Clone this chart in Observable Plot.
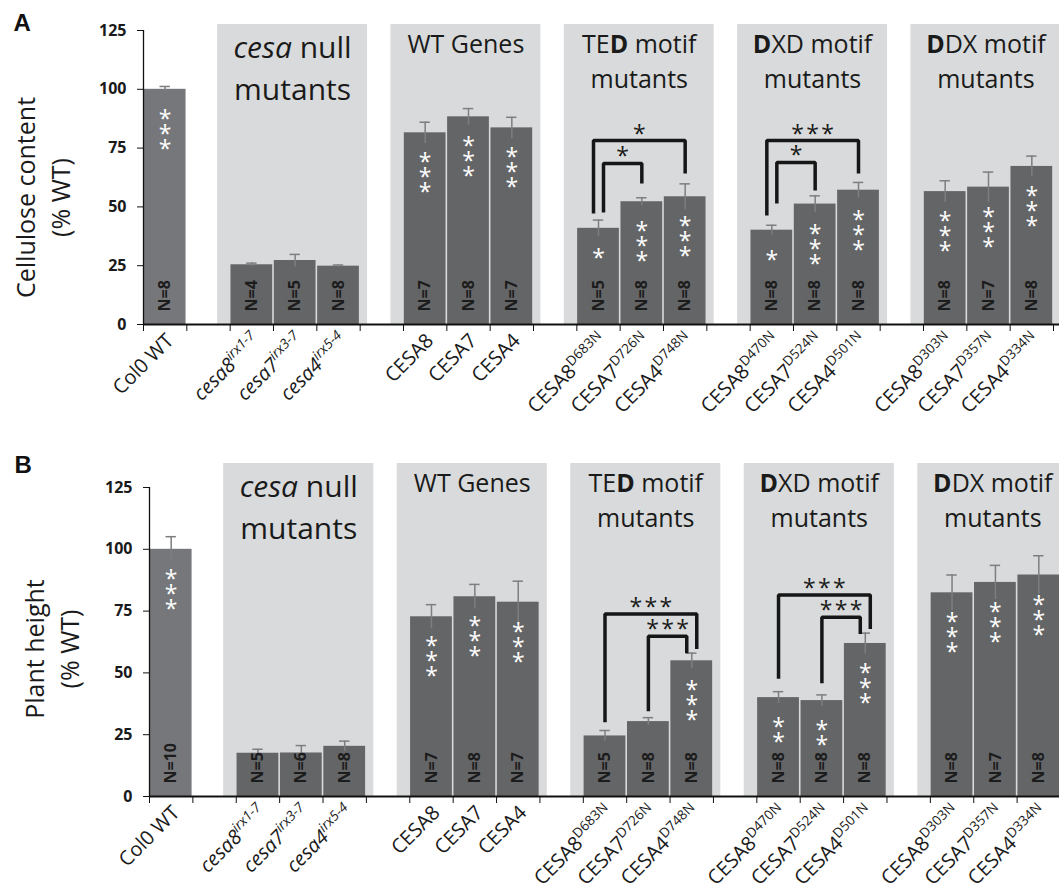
<!DOCTYPE html>
<html><head><meta charset="utf-8">
<script src="https://cdn.jsdelivr.net/npm/d3@7"></script>
<script src="https://cdn.jsdelivr.net/npm/@observablehq/plot@0.6"></script>
<style>
body{margin:0;background:#fff;}
#wrap{position:relative;width:1059px;height:887px;overflow:hidden;background:#fff;}
#wrap > svg{position:absolute;left:0;}
</style></head><body><div id="wrap"></div>
<script>
// ---- data ----
const labels = ["Col0 WT", "_cesa8^irx1-7_", "_cesa7^irx3-7_", "_cesa4^irx5-4_",
  "CESA8", "CESA7", "CESA4",
  "CESA8^D683N", "CESA7^D726N", "CESA4^D748N",
  "CESA8^D470N", "CESA7^D524N", "CESA4^D501N",
  "CESA8^D303N", "CESA7^D357N", "CESA4^D334N"];
const groupOf = ["", "null", "null", "null", "wt", "wt", "wt", "ted", "ted", "ted", "dxd", "dxd", "dxd", "ddx", "ddx", "ddx"];
const groupIds = ["null", "wt", "ted", "dxd", "ddx"];
const groupLine1 = ["_cesa_ null", "WT Genes", "TE[D] motif", "[D]XD motif", "[D]DX motif"];
const groupLine2 = ["mutants", "", "mutants", "mutants", "mutants"];
const yTicks = [0, 25, 50, 75, 100, 125];

const celluloseMean = [100, 25.4, 27.2, 24.8, 81.5, 88.3, 83.6, 40.9, 52.2, 54.3, 40.1, 51.2, 57.1, 56.5, 58.4, 67.2];
const celluloseErr  = [1.2, 0.7, 2.6, 0.5, 4.5, 3.5, 4.5, 3.5, 1.7, 5.5, 2.1, 3.5, 3.3, 4.6, 6.4, 4.4];
const celluloseN    = [8, 4, 5, 8, 7, 8, 7, 5, 8, 8, 8, 8, 8, 8, 7, 8];
const celluloseSig  = ["***", "", "", "", "***", "***", "***", "*", "***", "***", "*", "***", "***", "***", "***", "***"];
const celluloseBrackets = [
  {from: 7, to: 9, top: 78.2, fromEnd: 47.2, toEnd: 64.2, label: "*"},
  {from: 7, to: 8, top: 68.5, fromEnd: 47.6, toEnd: 60.0, label: "*"},
  {from: 10, to: 12, top: 78.2, fromEnd: 46.3, toEnd: 64.2, label: "***"},
  {from: 10, to: 11, top: 68.9, fromEnd: 51.4, toEnd: 57.0, label: "*"}
];

const heightMean = [100, 17.5, 17.6, 20.3, 72.7, 80.8, 78.6, 24.5, 30.3, 54.9, 40.0, 38.8, 61.9, 82.4, 86.6, 89.6];
const heightErr  = [5.1, 1.6, 3.0, 2.1, 4.9, 5.0, 8.5, 2.2, 1.6, 3.1, 2.4, 2.3, 4.2, 7.2, 6.9, 7.8];
const heightN    = [10, 5, 6, 8, 7, 8, 7, 5, 8, 8, 8, 8, 8, 8, 7, 8];
const heightSig  = ["***", "", "", "", "***", "***", "***", "", "", "***", "**", "**", "***", "***", "***", "***"];
const heightBrackets = [
  {from: 7, to: 9, top: 73.8, fromEnd: 30.0, toEnd: 59.7, label: "***"},
  {from: 8, to: 9, top: 64.8, fromEnd: 34.5, toEnd: 57.9, label: "***"},
  {from: 10, to: 12, top: 81.5, fromEnd: 47.6, toEnd: 67.8, label: "***"},
  {from: 11, to: 12, top: 72.5, fromEnd: 45.8, toEnd: 65.7, label: "***"}
];

// ---- layout helpers ----
const slots = [];
{ let s = 0; labels.forEach((l, i) => { if (i > 0) s += groupOf[i] !== groupOf[i - 1] ? 2 : 1; slots.push(s); }); }
const nSlots = slots[slots.length - 1] + 1;
const groups = groupIds.map((id, g) => {
  const ss = slots.filter((s, i) => groupOf[i] === id);
  const x1 = d3.min(ss) - 0.29, x2 = d3.max(ss) + 1 + 0.17;
  return {id, x1, x2, cx: (x1 + x2) / 2, line1: groupLine1[g], line2: groupLine2[g]};
});

function richify(svg) {
  const NS = "http://www.w3.org/2000/svg";
  svg.querySelectorAll("text, tspan").forEach(el => {
    if (el.childNodes.length !== 1 || el.firstChild.nodeType !== 3) return;
    const s = el.textContent;
    if (!/[\^_\[\]]/.test(s)) return;
    let italic = false, bold = false, sup = false, buf = "";
    const runs = [];
    const flush = () => { if (buf) runs.push({t: buf, italic, bold, sup}); buf = ""; };
    for (const ch of s) {
      if (ch === "_") { flush(); italic = !italic; }
      else if (ch === "[") { flush(); bold = true; }
      else if (ch === "]") { flush(); bold = false; }
      else if (ch === "^") { flush(); sup = true; }
      else buf += ch;
    }
    flush();
    el.textContent = "";
    let raised = false;
    for (const r of runs) {
      const t = document.createElementNS(NS, "tspan");
      t.textContent = r.t;
      if (r.italic) t.setAttribute("font-style", "italic");
      if (r.bold) t.setAttribute("font-weight", "bold");
      if (r.sup) {
        t.setAttribute("font-size", "0.68em");
        if (!raised) { t.setAttribute("dy", "-0.6em"); raised = true; }
      }
      el.appendChild(t);
    }
  });
}

function panel(cfg) {
  const rows = labels.map((label, i) => ({
    i, label, slot: slots[i], mean: cfg.mean[i], err: cfg.err[i], n: "N=" + cfg.n[i],
    sig: cfg.sig[i].split("").join("\n")
  }));
  const unitPx = (cfg.xRange[1] - cfg.xRange[0]) / nSlots;
  const off = 5 / unitPx;
  const cx = i => slots[i] + 0.5;
  const pts = [], blabels = [];
  cfg.brackets.forEach((b, k) => {
    let oL = 0, oR = 0;
    cfg.brackets.forEach(o => {
      if (o === b) return;
      const wide = (b.to - b.from) > (o.to - o.from);
      if (o.from === b.from) oL = wide ? -off : off;
      if (o.to === b.to) oR = wide ? off : -off;
    });
    const xa = cx(b.from) + oL, xb = cx(b.to) + oR;
    pts.push({k, x: xa, y: b.fromEnd}, {k, x: xa, y: b.top}, {k, x: xb, y: b.top}, {k, x: xb, y: b.toEnd});
    blabels.push({x: (xa + xb) / 2, y: b.top, t: b.label.split("").join("\u200a")});
  });
  const ink = "#1a1a1a";
  const svg = Plot.plot({
    width: 1059, height: cfg.height,
    marginTop: cfg.marginTop, marginBottom: cfg.marginBottom,
    marginLeft: cfg.xRange[0], marginRight: 0,
    x: {domain: [0, nSlots], range: cfg.xRange},
    y: {domain: [0, 125]},
    color: {type: "identity"},
    style: {fontFamily: "'Open Sans', sans-serif", background: "transparent", color: ink},
    marks: [
      Plot.rect(groups, {x1: "x1", x2: "x2", y1: () => 0, y2: () => 125, insetTop: -cfg.headroom, fill: "#d9dadb"}),
      Plot.rect(rows, {x1: d => d.slot, x2: d => d.slot + 1, y1: () => 0, y2: d => d.mean,
        fill: d => d.i === 0 ? "#76777a" : "#646567", insetLeft: 0.8, insetRight: 0.8}),
      Plot.ruleX(rows, {x: d => d.slot + 0.5, y1: d => d.mean - d.err, y2: d => d.mean + d.err, stroke: "#7d7e81", strokeWidth: 1.5}),
      Plot.ruleY(rows, {y: d => d.mean + d.err, x1: d => d.slot + 0.38, x2: d => d.slot + 0.62, stroke: "#7d7e81", strokeWidth: 1.5}),
      Plot.ruleY([0], {x1: () => 0, x2: () => nSlots + 0.5, stroke: "#111", strokeWidth: 2}),
      Plot.ruleX([0], {y1: () => 0, y2: () => 125, stroke: "#111", strokeWidth: 1.3}),
      Plot.axisX({ticks: d3.range(0, nSlots + 1), tickSize: 7, tickFormat: () => "", label: null, stroke: "#111"}),
      Plot.axisY({ticks: yTicks, tickSize: 6, tickPadding: 11, fontSize: 16, fontWeight: "bold", label: null, stroke: "#111", fill: ink}),
      Plot.text(rows, {x: d => d.slot + 0.5, frameAnchor: "bottom", text: "n", rotate: -90, textAnchor: "start",
        lineAnchor: "middle", dy: -13, fontSize: 16, fontWeight: "bold", fill: "#1c1c1c"}),
      Plot.text(rows.filter(d => d.sig), {x: d => d.slot + 0.5, y: "mean", text: "sig", lineAnchor: "top",
        lineHeight: 0.65, dy: 27, fontSize: 23, fill: "white"}),
      Plot.line(pts, {x: "x", y: "y", z: "k", stroke: "#161616", strokeWidth: 3.5, strokeLinejoin: "miter", strokeLinecap: "butt"}),
      Plot.text(blabels, {x: "x", y: "y", text: "t", lineAnchor: "bottom", dy: 1, fontSize: 23, fill: ink}),
      Plot.text(groups.filter(g => g.id === "null"), {x: "cx", frameAnchor: "top", text: "line1", lineAnchor: "bottom", dy: -cfg.headroom + 33, fontSize: 30, fill: ink}),
      Plot.text(groups.filter(g => g.id === "null"), {x: "cx", frameAnchor: "top", text: "line2", lineAnchor: "bottom", dy: -cfg.headroom + 75, fontSize: 30, fill: ink}),
      Plot.text(groups.filter(g => g.id !== "null"), {x: "cx", frameAnchor: "top", text: "line1", lineAnchor: "bottom", dy: -cfg.headroom + 28, fontSize: 25, fill: ink}),
      Plot.text(groups.filter(g => g.id !== "null" && g.line2), {x: "cx", frameAnchor: "top", text: "line2", lineAnchor: "bottom", dy: -cfg.headroom + 63, fontSize: 25, fill: ink}),
      Plot.text([cfg.yTitle], {frameAnchor: "left", dx: cfg.titleDx, dy: cfg.titleDy, rotate: -90, lineAnchor: "middle",
        textAnchor: "middle", fontSize: 25, lineHeight: 1.4, fill: ink}),
      Plot.text([cfg.letter], {frameAnchor: "top-left", dx: cfg.letterDx, dy: cfg.letterDy, lineAnchor: "bottom", textAnchor: "start",
        fontSize: 24, fontWeight: "bold", fontFamily: "'Liberation Sans', Arial, sans-serif", fill: "#111"}),
      Plot.text(rows, {x: d => d.slot + 0.5, frameAnchor: "bottom", text: "label", rotate: -45, textAnchor: "end",
        lineAnchor: "middle", dx: 5, dy: 13, fontSize: 20, fill: ink})
    ]
  });
  richify(svg);
  svg.style.top = cfg.top + "px";
  return svg;
}

const wrap = document.getElementById("wrap");
wrap.appendChild(panel({
  mean: celluloseMean, err: celluloseErr, n: celluloseN, sig: celluloseSig, brackets: celluloseBrackets,
  yTitle: "Cellulose content\n(% WT)", letter: "A",
  top: 0, height: 440, marginTop: 30, marginBottom: 116, xRange: [143, 1053], headroom: 6,
  titleDx: -102.5, titleDy: 20, letterDx: -130, letterDy: 0
}));
wrap.appendChild(panel({
  mean: heightMean, err: heightErr, n: heightN, sig: heightSig, brackets: heightBrackets,
  yTitle: "Plant height\n(% WT)", letter: "B",
  top: 440, height: 447, marginTop: 47, marginBottom: 91, xRange: [149, 1060], headroom: 24,
  titleDx: -99.5, titleDy: 7, letterDx: -135, letterDy: -15
}));
</script></body></html>
